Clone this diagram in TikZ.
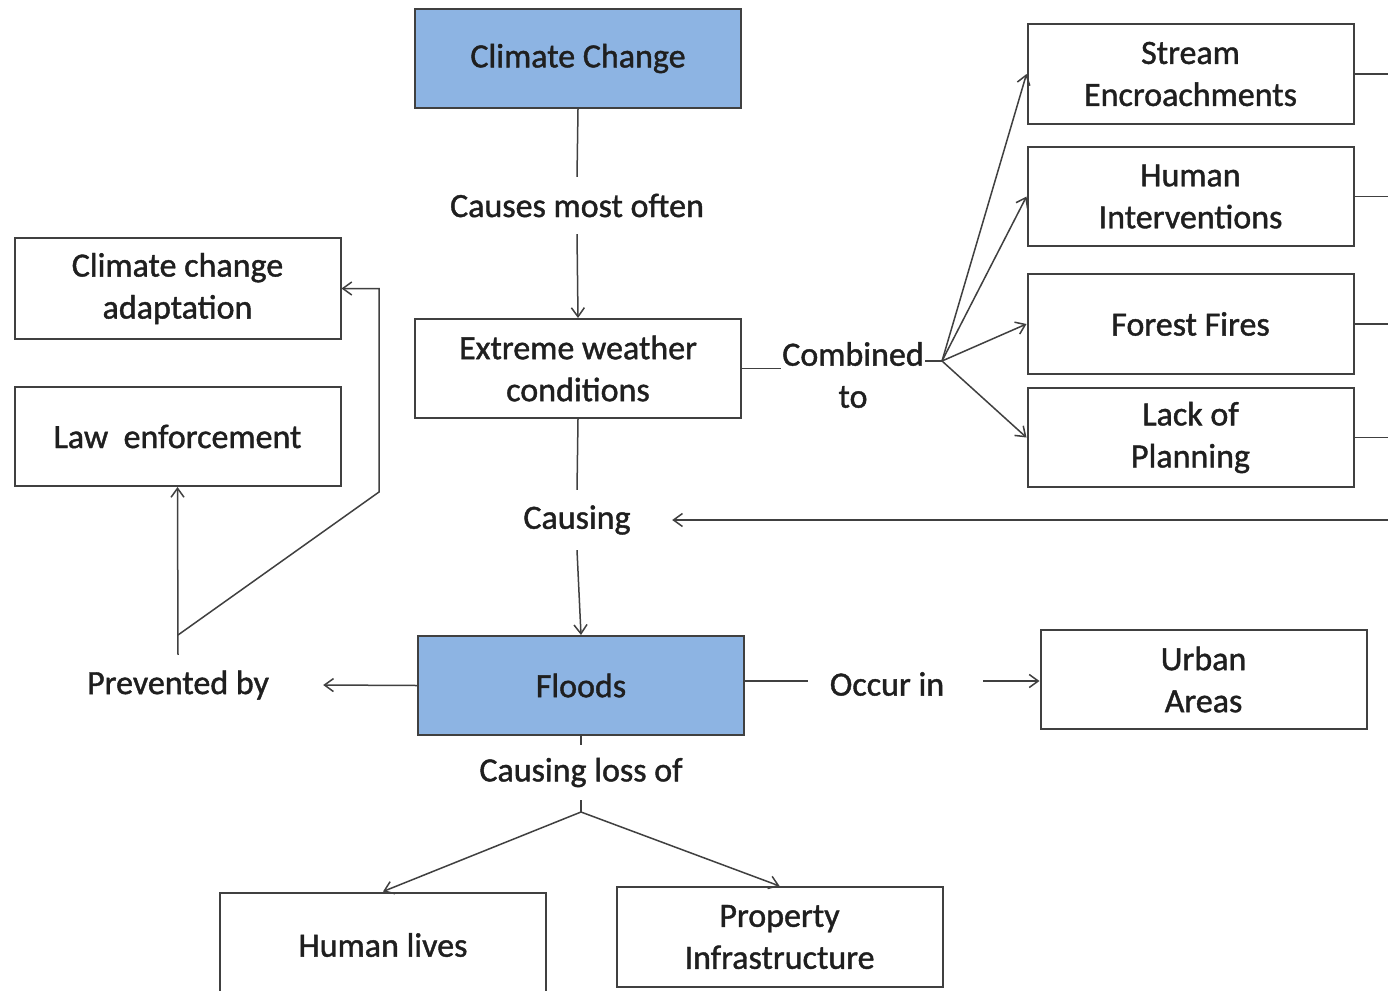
\documentclass[tikz,border=0pt]{standalone}
\usepackage{fontspec}
\setmainfont{Carlito}[FakeBold=1.2]
\usetikzlibrary{arrows.meta}
\definecolor{floodblue}{RGB}{141,180,227}
\definecolor{edge}{RGB}{64,64,64}

\begin{document}
\begin{tikzpicture}[x=1pt,y=-1pt,
  every node/.style={font=\fontsize{34}{42}\selectfont, text=black!88, align=center},
  box/.style={draw=edge, line width=2pt, fill=white, minimum width=326pt,
              minimum height=99pt, inner sep=0pt},
  keybox/.style={box, fill=floodblue},
  lbl/.style={inner sep=0pt},
  link/.style={draw=edge, line width=1.5pt},
  arr/.style={link, -{Straight Barb[length=9pt,width=13pt]}}
]
\useasboundingbox (0,0) rectangle (1388,990);
\clip (0,0) rectangle (1388,990);
\fill[white] (0,0) rectangle (1388,990);

% main chain
\node[keybox] (cc) at (578,58.5) {Climate Change};
\node[box] (ew) at (578,368.5) {Extreme weather\\conditions};
\node[keybox] (fl) at (581,685.5) {Floods};

% prevention
\node[box, minimum height=101pt] (cca) at (177.5,288.5) {Climate change\\adaptation};
\node[box] (law) at (177.5,436.5) {Law\ \ enforcement};

% contributing factors
\node[box] (se) at (1190.5,74) {Stream\\Encroachments};
\node[box] (hi) at (1190.5,196.5) {Human\\Interventions};
\node[box, minimum height=100pt] (ff) at (1190.5,324) {Forest Fires};
\node[box] (lp) at (1190.5,437.5) {Lack of\\Planning};

% consequences
\node[box] (ua) at (1203.5,679.5) {Urban\\Areas};
\node[box, minimum height=105pt] (hl) at (383,945) {Human lives};
\node[box, minimum height=100pt] (pi) at (779.5,937) {Property\\Infrastructure};

% link labels
\node[lbl, minimum height=57pt] (causes) at (577,205.5) {Causes most often};
\node[lbl, minimum height=60pt, minimum width=190pt] (causing) at (577,520) {Causing};
\node[lbl, minimum height=60pt, minimum width=290pt] (prev) at (178,685) {Prevented by};
\node[lbl, minimum width=158pt] (occ) at (887,684) {Occur in};
\node[lbl, minimum width=144pt] (comb) at (853,375) {Combined\\to};
\node[lbl, minimum height=55pt] (loss) at (581,772.5) {Causing loss of};

\coordinate (hub) at (942,361);
\coordinate (rim) at (1388,520);
\coordinate (split) at (581,812);
\coordinate (pb) at (178,635);
\coordinate (bend) at (379,492);
\coordinate (occline) at (0,681);

% climate change -> extreme weather -> floods
\draw[link] (cc.south) -- (causes.north);
\draw[arr] (causes.south) -- (ew.north);
\draw[link] (ew.south) -- (causing.north);
\draw[arr] (causing.south) -- (fl.north);

% combined factors
\draw[link] (ew.east) -- (ew.east -| comb.west);
\draw[link] (comb.east |- hub) -- (hub);
\foreach \t in {se,hi,ff,lp} {
  \draw[arr] (hub) -- (\t.west);
  \draw[link] (\t.east) -- (\t.east -| rim);
}
\draw[arr] (rim) -- (causing.east);

% prevention
\draw[arr] (fl.west) -- (prev.east);
\draw[arr] (prev.north) -- (law.south);
\draw[arr] (pb) -- (bend) -- (bend |- cca.east) -- (cca.east);

% occurrence
\draw[link] (fl.east |- occline) -- (occ.west |- occline);
\draw[arr] ([xshift=17pt]occ.east |- occline) -- (ua.west |- occline);

% losses
\draw[link] (fl.south) -- (loss.north);
\draw[link] (loss.south) -- (split);
\draw[arr] (split) -- (hl.north);
\draw[arr] (split) -- (pi.north);
\end{tikzpicture}
\end{document}
